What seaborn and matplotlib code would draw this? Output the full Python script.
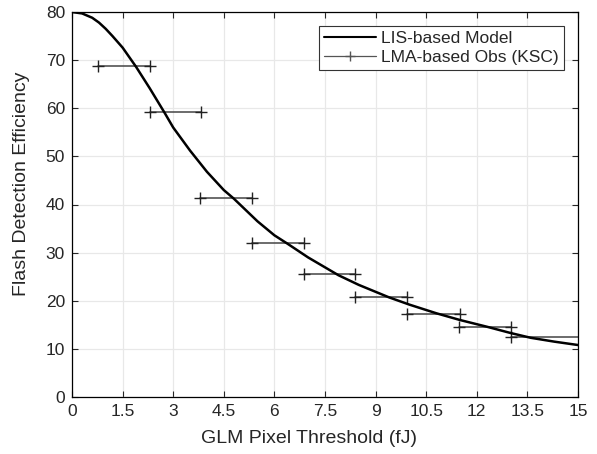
import numpy as np
import pandas as pd
import seaborn as sns
import matplotlib
matplotlib.use('Agg')
import matplotlib.pyplot as plt
from matplotlib.lines import Line2D

sns.set_style('ticks')
plt.rcParams['font.family'] = ['Liberation Sans', 'DejaVu Sans']

# model curve
model_x = [0, 0.3, 0.6, 0.8, 1.0, 1.2, 1.5, 1.9, 2.3, 2.75, 3.0, 3.5, 4.0, 4.5, 4.8, 5.5, 6.0, 6.4,
           7.0, 7.9, 8.5, 9.4, 10.0, 10.8, 11.5, 12.3, 13.0, 13.6, 14.3, 15.0]
model_y = [80, 79.7, 78.8, 77.8, 76.5, 75.0, 72.6, 68.6, 64.2, 59.0, 56.0, 51.2, 46.8, 43.0, 41.2, 36.5, 33.6, 31.8,
           29.0, 25.3, 23.3, 20.7, 19.2, 17.4, 16.0, 14.6, 13.3, 12.3, 11.5, 10.8]

# observed bins (start, end, value)
obs_lo = [0.77, 2.3, 3.8, 5.33, 6.87, 8.4, 9.93, 11.47, 13.0]
obs_hi = [2.3, 3.83, 5.34, 6.88, 8.4, 9.93, 11.5, 13.0, 16.5]
obs_y = [68.7, 59.2, 41.3, 32.0, 25.5, 20.8, 17.2, 14.5, 12.4]

xticks = [0, 1.5, 3, 4.5, 6, 7.5, 9, 10.5, 12, 13.5, 15]
xtick_labels = ['0', '1.5', '3', '4.5', '6', '7.5', '9', '10.5', '12', '13.5', '15']

seg = pd.DataFrame({
    'x': obs_lo + obs_hi,
    'y': obs_y + obs_y,
    'bin': list(range(len(obs_y))) * 2,
})
model = pd.DataFrame({'x': model_x, 'y': model_y})

fig = plt.figure(figsize=(5.97, 4.54), dpi=100)
ax = fig.add_axes([72 / 597, 1 - 397 / 454, 506 / 597, 385 / 454])

sns.lineplot(data=seg, x='x', y='y', units='bin', estimator=None, sort=True,
             color='#444444', lw=1.1, marker='+', markersize=8.5, mew=1.0,
             markeredgecolor='#222222', ax=ax)
sns.lineplot(data=model, x='x', y='y', color='black', lw=1.8, ax=ax)

ax.set_xlim(0, 15)
ax.set_ylim(0, 80)
ax.set_xticks(xticks)
ax.set_xticklabels(xtick_labels)
ax.set_yticks(range(0, 81, 10))
ax.grid(True, color='#e8e8e8', lw=0.9)
ax.set_axisbelow(True)
ax.tick_params(direction='in', top=True, right=True, labelsize=12.5, length=4, width=0.8, pad=5)
for s in ax.spines.values():
    s.set_visible(True)
    s.set_linewidth(0.9)
    s.set_color('black')
ax.set_xlabel('GLM Pixel Threshold (fJ)', fontsize=14)
ax.set_ylabel('Flash Detection Efficiency', fontsize=14)
ax.xaxis.set_label_coords(0.468, -0.085)
ax.yaxis.set_label_coords(-0.083, 0.555)

handles = [Line2D([], [], color='black', lw=1.5),
           Line2D([], [], color='#555555', lw=0.9, marker='+', markersize=7)]
leg = ax.legend(handles, ['LIS-based Model', 'LMA-based Obs (KSC)'], loc='upper right',
                fontsize=12.5, fancybox=False, framealpha=1, edgecolor='#333333',
                handlelength=3.0, borderaxespad=0.8, borderpad=0.3, labelspacing=0.2,
                handletextpad=0.3)
leg.get_frame().set_linewidth(0.8)

fig.savefig('out.png', dpi=100)
